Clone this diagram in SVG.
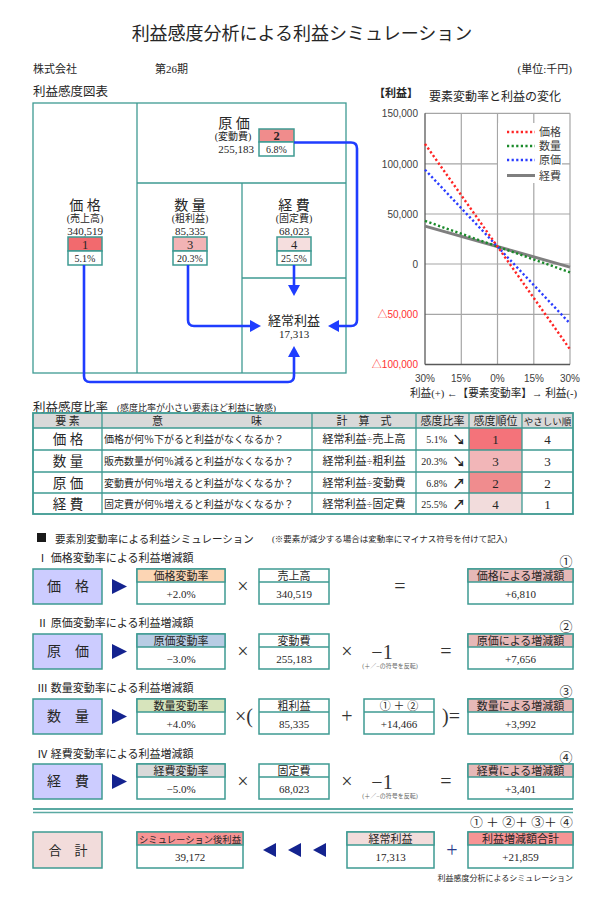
<svg xmlns="http://www.w3.org/2000/svg" width="600" height="900" viewBox="0 0 600 900">
<style>
.m{font-family:"Liberation Serif","Noto Sans CJK JP",serif;fill:#262626}
.g{font-family:"Liberation Sans","Noto Sans CJK JP",sans-serif;fill:#404040}
.c{text-anchor:middle}
.r{text-anchor:end}
.tl{stroke:#3e9a92;stroke-width:1.3;fill:none}
.bx{stroke:#3e9a92;stroke-width:1.5;fill:#fff}
.el{stroke:#3e9a92;stroke-width:1.5;fill:#ccccff}
.conn{stroke:#1f3dff;stroke-width:2.6;fill:none;stroke-linejoin:round}
.grid{stroke:#a6a6a6;stroke-width:1.2}
.nav{fill:#14238f}
.op{font-family:"Liberation Serif","Noto Sans CJK JP",serif;fill:#333;font-size:20px;text-anchor:middle}
</style>
<defs>
<marker id="ah" viewBox="0 0 11 12" markerWidth="11" markerHeight="12" markerUnits="userSpaceOnUse" refX="1" refY="6" orient="auto">
<path d="M0,0 L11,6 L0,12 z" fill="#1f3dff"/>
</marker>
</defs>
<rect width="600" height="900" fill="#fff"/>

<!-- header -->
<text class="m c" x="302" y="40" font-size="18">利益感度分析による利益シミュレーション</text>
<text class="m" x="33" y="73" font-size="11">株式会社</text>
<text class="m" x="155" y="73" font-size="11">第26期</text>
<text class="m r" x="572" y="73" font-size="11">(単位:千円)</text>
<text class="m" x="33" y="96" font-size="12.5">利益感度図表</text>

<!-- sensitivity diagram frame -->
<g id="diagram-frame">
<rect x="33" y="103" width="313" height="270" class="tl"/>
<line x1="137" y1="103" x2="137" y2="373" class="tl"/>
<line x1="137" y1="183" x2="346" y2="183" class="tl"/>
<line x1="242" y1="183" x2="242" y2="373" class="tl"/>
<line x1="242" y1="278" x2="346" y2="278" class="tl"/>
</g>

<g id="node-genka">
<text class="m c" x="234" y="128" font-size="14">原 価</text>
<text class="m c" x="233" y="140" font-size="10">(変動費)</text>
<text class="m c" x="236" y="153" font-size="11">255,183</text>
<rect x="259" y="129" width="35" height="13" class="bx" style="fill:#f08c8c"/>
<rect x="259" y="142" width="35" height="14" class="bx"/>
<text class="m c" x="276.5" y="140" font-size="12.5" font-weight="bold">2</text>
<text class="m c" x="276.5" y="153" font-size="10">6.8%</text>
</g>

<g id="node-kakaku">
<text class="m c" x="85" y="210" font-size="14">価 格</text>
<text class="m c" x="85" y="222" font-size="10">(売上高)</text>
<text class="m c" x="85" y="235" font-size="11">340,519</text>
<rect x="68" y="237" width="34" height="14" class="bx" style="fill:#f26a6e"/>
<rect x="68" y="251" width="34" height="14" class="bx"/>
<text class="m c" x="85" y="248.5" font-size="12.5">1</text>
<text class="m c" x="85" y="262" font-size="10">5.1%</text>
</g>

<g id="node-suryo">
<text class="m c" x="190" y="210" font-size="14">数 量</text>
<text class="m c" x="190" y="222" font-size="10">(粗利益)</text>
<text class="m c" x="190" y="235" font-size="11">85,335</text>
<rect x="173" y="237" width="34" height="14" class="bx" style="fill:#f2b3b5"/>
<rect x="173" y="251" width="34" height="14" class="bx"/>
<text class="m c" x="190" y="248.5" font-size="12.5">3</text>
<text class="m c" x="190" y="262" font-size="10">20.3%</text>
</g>

<g id="node-keihi">
<text class="m c" x="294" y="210" font-size="14">経 費</text>
<text class="m c" x="294" y="222" font-size="10">(固定費)</text>
<text class="m c" x="294" y="235" font-size="11">68,023</text>
<rect x="277" y="237" width="34" height="14" class="bx" style="fill:#f5dede"/>
<rect x="277" y="251" width="34" height="14" class="bx"/>
<text class="m c" x="294" y="248.5" font-size="12.5">4</text>
<text class="m c" x="294" y="262" font-size="10">25.5%</text>
</g>

<g id="node-keijo">
<text class="m c" x="294" y="325" font-size="13">経常利益</text>
<text class="m c" x="294" y="338" font-size="11">17,313</text>
</g>

<g id="connectors">
<path class="conn" d="M294,142.5 H351 Q357,142.5 357,148.5 V320 Q357,326 351,326 H338" marker-end="url(#ah)"/>
<path class="conn" d="M294,265 V286" marker-end="url(#ah)"/>
<path class="conn" d="M188,265 V320 Q188,326 194,326 H251" marker-end="url(#ah)"/>
<path class="conn" d="M84,265 V376 Q84,382 90,382 H288 Q294,382 294,376 V356" marker-end="url(#ah)"/>
</g>

<!-- chart -->
<g id="chart">
<text class="m" x="374" y="97" font-size="11" font-weight="bold">【利益】</text>
<text class="m" x="429" y="101" font-size="12">要素変動率と利益の変化</text>
<line x1="425" y1="113.3" x2="570" y2="113.3" class="grid"/>
<line x1="425" y1="163.8" x2="570" y2="163.8" class="grid"/>
<line x1="425" y1="214" x2="570" y2="214" class="grid"/>
<line x1="425" y1="264" x2="570" y2="264" class="grid"/>
<line x1="425" y1="314.3" x2="570" y2="314.3" class="grid"/>
<line x1="461.3" y1="113.3" x2="461.3" y2="364.5" class="grid"/>
<line x1="497.5" y1="113.3" x2="497.5" y2="364.5" class="grid"/>
<line x1="533.8" y1="113.3" x2="533.8" y2="364.5" class="grid"/>
<line x1="570" y1="113.3" x2="570" y2="364.5" class="grid"/>
<line x1="425" y1="113.3" x2="425" y2="364.5" stroke="#595959" stroke-width="1.3"/>
<line x1="425" y1="364.5" x2="570" y2="364.5" stroke="#595959" stroke-width="1.3"/>
<line x1="425" y1="226.1" x2="570" y2="267.1" stroke="#7f7f7f" stroke-width="3"/>
<line x1="425" y1="220.9" x2="570" y2="272.3" stroke="#1a8a2a" stroke-width="2.4" stroke-dasharray="2.2 2.4"/>
<line x1="425" y1="169.7" x2="570" y2="323.5" stroke="#2a3cff" stroke-width="2.4" stroke-dasharray="2.2 2.4"/>
<line x1="425" y1="143.9" x2="570" y2="349.3" stroke="#ff2424" stroke-width="2.4" stroke-dasharray="2.2 2.4"/>
<rect x="498" y="123" width="64" height="60" fill="#fff"/>
<line x1="507" y1="132" x2="535" y2="132" stroke="#ff2424" stroke-width="2.4" stroke-dasharray="2.2 2.4"/>
<line x1="507" y1="146" x2="535" y2="146" stroke="#1a8a2a" stroke-width="2.4" stroke-dasharray="2.2 2.4"/>
<line x1="507" y1="160" x2="535" y2="160" stroke="#2a3cff" stroke-width="2.4" stroke-dasharray="2.2 2.4"/>
<line x1="507" y1="175.5" x2="535" y2="175.5" stroke="#7f7f7f" stroke-width="3"/>
<text class="g" x="539" y="136" font-size="11">価格</text>
<text class="g" x="539" y="150" font-size="11">数量</text>
<text class="g" x="539" y="164" font-size="11">原価</text>
<text class="g" x="539" y="179.5" font-size="11">経費</text>
<text class="g r" x="418" y="117" font-size="10">150,000</text>
<text class="g r" x="418" y="167.5" font-size="10">100,000</text>
<text class="g r" x="418" y="217.5" font-size="10">50,000</text>
<text class="g r" x="418" y="267.5" font-size="10">0</text>
<text class="g r" x="418" y="318" font-size="10" style="fill:#ff3030">△50,000</text>
<text class="g r" x="418" y="368" font-size="10" style="fill:#ff3030">△100,000</text>
<text class="g c" x="425" y="382" font-size="10">30%</text>
<text class="g c" x="461" y="382" font-size="10">15%</text>
<text class="g c" x="497.5" y="382" font-size="10">0%</text>
<text class="g c" x="534" y="382" font-size="10">15%</text>
<text class="g c" x="570" y="382" font-size="10">30%</text>
<text class="m" x="410" y="397" font-size="11" textLength="167" lengthAdjust="spacingAndGlyphs">利益(+) ←【要素変動率】→ 利益(-)</text>
</g>

<!-- ratio table -->
<g id="ratio-table">
<text class="m" x="33" y="412" font-size="12.5">利益感度比率</text>
<text class="m" x="117" y="411" font-size="9">(感度比率が小さい要素ほど利益に敏感)</text>
<rect x="33" y="413" width="540" height="15" fill="#d9d9d9"/>
<rect x="469" y="428" width="53" height="22" fill="#f4737a"/>
<rect x="469" y="450" width="53" height="22" fill="#f2b6b8"/>
<rect x="469" y="472" width="53" height="21" fill="#f08c8e"/>
<rect x="469" y="493" width="53" height="21" fill="#f2dcdc"/>
<line x1="33" y1="428" x2="573" y2="428" class="tl"/>
<line x1="33" y1="450" x2="573" y2="450" class="tl"/>
<line x1="33" y1="472" x2="573" y2="472" class="tl"/>
<line x1="33" y1="493" x2="573" y2="493" class="tl"/>
<line x1="102" y1="413" x2="102" y2="514" class="tl"/>
<line x1="312" y1="413" x2="312" y2="514" class="tl"/>
<line x1="416" y1="413" x2="416" y2="514" class="tl"/>
<line x1="469" y1="413" x2="469" y2="514" class="tl"/>
<line x1="522" y1="413" x2="522" y2="514" class="tl"/>
<rect x="33" y="413" width="540" height="101" fill="none" stroke="#3e9a92" stroke-width="1.8"/>
<text class="m c" x="67.5" y="424.5" font-size="11">要 素</text>
<text class="m c" x="207" y="424.5" font-size="11">意　　　　　　　　味</text>
<text class="m c" x="364" y="424.5" font-size="11">計　算　式</text>
<text class="m c" x="442.5" y="424.5" font-size="11">感度比率</text>
<text class="m c" x="495.5" y="424.5" font-size="11">感度順位</text>
<text class="m c" x="547.5" y="424.5" font-size="9.5">やさしい順</text>

<text class="m c" x="68" y="444" font-size="13.5">価 格</text>
<text class="m c" x="68" y="466" font-size="13.5">数 量</text>
<text class="m c" x="68" y="487.5" font-size="13.5">原 価</text>
<text class="m c" x="68" y="508.5" font-size="13.5">経 費</text>

<text class="m" x="104" y="443" font-size="10">価格が何％下がると利益がなくなるか？</text>
<text class="m" x="104" y="465" font-size="10">販売数量が何％減ると利益がなくなるか？</text>
<text class="m" x="104" y="486.5" font-size="10">変動費が何％増えると利益がなくなるか？</text>
<text class="m" x="104" y="507.5" font-size="10">固定費が何％増えると利益がなくなるか？</text>

<text class="m c" x="364" y="443" font-size="11">経常利益÷売上高</text>
<text class="m c" x="364" y="465" font-size="11">経常利益÷粗利益</text>
<text class="m c" x="364" y="486.5" font-size="11">経常利益÷変動費</text>
<text class="m c" x="364" y="507.5" font-size="11">経常利益÷固定費</text>

<text class="m r" x="447" y="443" font-size="10">5.1%</text>
<text class="m r" x="447" y="465" font-size="10">20.3%</text>
<text class="m r" x="447" y="486.5" font-size="10">6.8%</text>
<text class="m r" x="447" y="507.5" font-size="10">25.5%</text>
<text class="m c" x="459" y="444" font-size="13" font-weight="bold">↘</text>
<text class="m c" x="459" y="466" font-size="13" font-weight="bold">↘</text>
<text class="m c" x="459" y="487.5" font-size="13" font-weight="bold">↗</text>
<text class="m c" x="459" y="508.5" font-size="13" font-weight="bold">↗</text>

<text class="m c" x="495.5" y="444" font-size="13">1</text>
<text class="m c" x="495.5" y="466" font-size="13">3</text>
<text class="m c" x="495.5" y="487.5" font-size="13">2</text>
<text class="m c" x="495.5" y="508.5" font-size="13">4</text>
<text class="m c" x="547.5" y="444" font-size="13">4</text>
<text class="m c" x="547.5" y="466" font-size="13">3</text>
<text class="m c" x="547.5" y="487.5" font-size="13">2</text>
<text class="m c" x="547.5" y="508.5" font-size="13">1</text>
</g>

<!-- simulation -->
<rect x="37" y="533" width="9" height="9" fill="#1a1a1a"/>
<text class="m" x="55" y="543" font-size="10.5">要素別変動率による利益シミュレーション</text>
<text class="m" x="272" y="542" font-size="8.5">(※要素が減少する場合は変動率にマイナス符号を付けて記入)</text>

<g id="row-kakaku">
<text class="m" x="37" y="562" font-size="11">Ⅰ 価格変動率による利益増減額</text>
<text class="m c" x="566" y="566" font-size="13">①</text>
<rect x="33" y="569" width="69" height="35" class="el"/>
<text class="m c" x="68" y="591" font-size="14">価　格</text>
<polygon class="nav" points="112,579 127,586.5 112,594"/>
<rect x="137" y="569" width="88" height="35" class="bx"/>
<rect x="137" y="569" width="88" height="13" class="bx" style="fill:#fcd5b4"/>
<text class="m c" x="181" y="579.5" font-size="11">価格変動率</text>
<text class="m c" x="181" y="597.5" font-size="11">+2.0%</text>
<text class="op" x="243" y="593">×</text>
<rect x="259" y="569" width="70" height="35" class="bx"/>
<line x1="259" y1="582" x2="329" y2="582" class="tl" style="stroke-width:1.5"/>
<text class="m c" x="294" y="579.5" font-size="11">売上高</text>
<text class="m c" x="294" y="597.5" font-size="11">340,519</text>
<text class="op" x="400" y="593">=</text>
<rect x="468" y="569" width="105" height="35" class="bx"/>
<rect x="468" y="569" width="105" height="13" class="bx" style="fill:#e6b8b7"/>
<text class="m c" x="520.5" y="579.5" font-size="11">価格による増減額</text>
<text class="m c" x="520.5" y="597.5" font-size="11">+6,810</text>
</g>

<g id="row-genka">
<text class="m" x="37" y="627" font-size="11">Ⅱ 原価変動率による利益増減額</text>
<text class="m c" x="566" y="631" font-size="13">②</text>
<rect x="33" y="634" width="69" height="35" class="el"/>
<text class="m c" x="68" y="656" font-size="14">原　価</text>
<polygon class="nav" points="112,644 127,651.5 112,659"/>
<rect x="137" y="634" width="88" height="35" class="bx"/>
<rect x="137" y="634" width="88" height="13" class="bx" style="fill:#b8cce4"/>
<text class="m c" x="181" y="644.5" font-size="11">原価変動率</text>
<text class="m c" x="181" y="662.5" font-size="11">−3.0%</text>
<text class="op" x="243" y="658">×</text>
<rect x="259" y="634" width="70" height="35" class="bx"/>
<line x1="259" y1="647" x2="329" y2="647" class="tl" style="stroke-width:1.5"/>
<text class="m c" x="294" y="644.5" font-size="11">変動費</text>
<text class="m c" x="294" y="662.5" font-size="11">255,183</text>
<text class="op" x="347" y="658">×</text>
<text class="op" x="382" y="659">−1</text>
<text class="m c" x="390" y="668" font-size="6" style="fill:#666">(＋／−の符号を反転)</text>
<text class="op" x="446" y="658">=</text>
<rect x="468" y="634" width="105" height="35" class="bx"/>
<rect x="468" y="634" width="105" height="13" class="bx" style="fill:#e6b8b7"/>
<text class="m c" x="520.5" y="644.5" font-size="11">原価による増減額</text>
<text class="m c" x="520.5" y="662.5" font-size="11">+7,656</text>
</g>

<g id="row-suryo">
<text class="m" x="37" y="692" font-size="11">Ⅲ 数量変動率による利益増減額</text>
<text class="m c" x="566" y="696" font-size="13">③</text>
<rect x="33" y="699" width="69" height="35" class="el"/>
<text class="m c" x="68" y="721" font-size="14">数　量</text>
<polygon class="nav" points="112,709 127,716.5 112,724"/>
<rect x="137" y="699" width="88" height="35" class="bx"/>
<rect x="137" y="699" width="88" height="13" class="bx" style="fill:#d7e4bc"/>
<text class="m c" x="181" y="709.5" font-size="11">数量変動率</text>
<text class="m c" x="181" y="727.5" font-size="11">+4.0%</text>
<text class="op" x="244" y="723">×(</text>
<rect x="259" y="699" width="70" height="35" class="bx"/>
<line x1="259" y1="712" x2="329" y2="712" class="tl" style="stroke-width:1.5"/>
<text class="m c" x="294" y="709.5" font-size="11">粗利益</text>
<text class="m c" x="294" y="727.5" font-size="11">85,335</text>
<text class="op" x="347" y="723">+</text>
<rect x="364" y="699" width="70" height="35" class="bx"/>
<line x1="364" y1="712" x2="434" y2="712" class="tl" style="stroke-width:1.5"/>
<text class="m c" x="399" y="709.5" font-size="11">① ＋ ②</text>
<text class="m c" x="399" y="727.5" font-size="11">+14,466</text>
<text class="op" x="451" y="723">)=</text>
<rect x="468" y="699" width="105" height="35" class="bx"/>
<rect x="468" y="699" width="105" height="13" class="bx" style="fill:#e6b8b7"/>
<text class="m c" x="520.5" y="709.5" font-size="11">数量による増減額</text>
<text class="m c" x="520.5" y="727.5" font-size="11">+3,992</text>
</g>

<g id="row-keihi">
<text class="m" x="37" y="758" font-size="11">Ⅳ 経費変動率による利益増減額</text>
<text class="m c" x="566" y="762" font-size="13">④</text>
<rect x="33" y="764" width="69" height="35" class="el"/>
<text class="m c" x="68" y="786" font-size="14">経　費</text>
<polygon class="nav" points="112,774 127,781.5 112,789"/>
<rect x="137" y="764" width="88" height="35" class="bx"/>
<rect x="137" y="764" width="88" height="13" class="bx" style="fill:#d9d9d9"/>
<text class="m c" x="181" y="774.5" font-size="11">経費変動率</text>
<text class="m c" x="181" y="792.5" font-size="11">−5.0%</text>
<text class="op" x="243" y="788">×</text>
<rect x="259" y="764" width="70" height="35" class="bx"/>
<line x1="259" y1="777" x2="329" y2="777" class="tl" style="stroke-width:1.5"/>
<text class="m c" x="294" y="774.5" font-size="11">固定費</text>
<text class="m c" x="294" y="792.5" font-size="11">68,023</text>
<text class="op" x="347" y="788">×</text>
<text class="op" x="382" y="789">−1</text>
<text class="m c" x="390" y="798" font-size="6" style="fill:#666">(＋／−の符号を反転)</text>
<text class="op" x="446" y="788">=</text>
<rect x="468" y="764" width="105" height="35" class="bx"/>
<rect x="468" y="764" width="105" height="13" class="bx" style="fill:#e6b8b7"/>
<text class="m c" x="520.5" y="774.5" font-size="11">経費による増減額</text>
<text class="m c" x="520.5" y="792.5" font-size="11">+3,401</text>
</g>

<line x1="33" y1="809" x2="573" y2="809" stroke="#5aa9a2" stroke-width="2"/>
<line x1="33" y1="812.5" x2="573" y2="812.5" stroke="#5aa9a2" stroke-width="1.3"/>

<g id="row-total">
<text class="m" x="470" y="827" font-size="12" textLength="103" lengthAdjust="spacingAndGlyphs">① ＋ ②＋ ③＋ ④</text>
<rect x="33" y="832" width="69" height="36" class="bx" style="fill:#f2dcdb"/>
<text class="m c" x="68" y="855" font-size="13">合　計</text>
<rect x="137" y="832" width="106" height="36" class="bx"/>
<rect x="137" y="832" width="106" height="13" class="bx" style="fill:#f79494"/>
<text class="m c" x="190" y="842.5" font-size="9.3">シミュレーション後利益</text>
<text class="m c" x="190" y="861" font-size="11">39,172</text>
<polygon class="nav" points="276,843 263,850 276,857"/>
<polygon class="nav" points="301,843 288,850 301,857"/>
<polygon class="nav" points="326,843 313,850 326,857"/>
<rect x="347" y="832" width="87" height="36" class="bx"/>
<rect x="347" y="832" width="87" height="13" class="bx" style="fill:#f2dcdb"/>
<text class="m c" x="390.5" y="842.5" font-size="11">経常利益</text>
<text class="m c" x="390.5" y="861" font-size="11">17,313</text>
<text class="op" x="452" y="857" style="fill:#2a3a8a">+</text>
<rect x="468" y="832" width="105" height="36" class="bx"/>
<rect x="468" y="832" width="105" height="13" class="bx" style="fill:#f79494"/>
<text class="m c" x="520.5" y="842.5" font-size="11">利益増減額合計</text>
<text class="m c" x="520.5" y="861" font-size="11">+21,859</text>
<text class="m r" x="573" y="881" font-size="8">利益感度分析によるシミュレーション</text>
</g>
</svg>
